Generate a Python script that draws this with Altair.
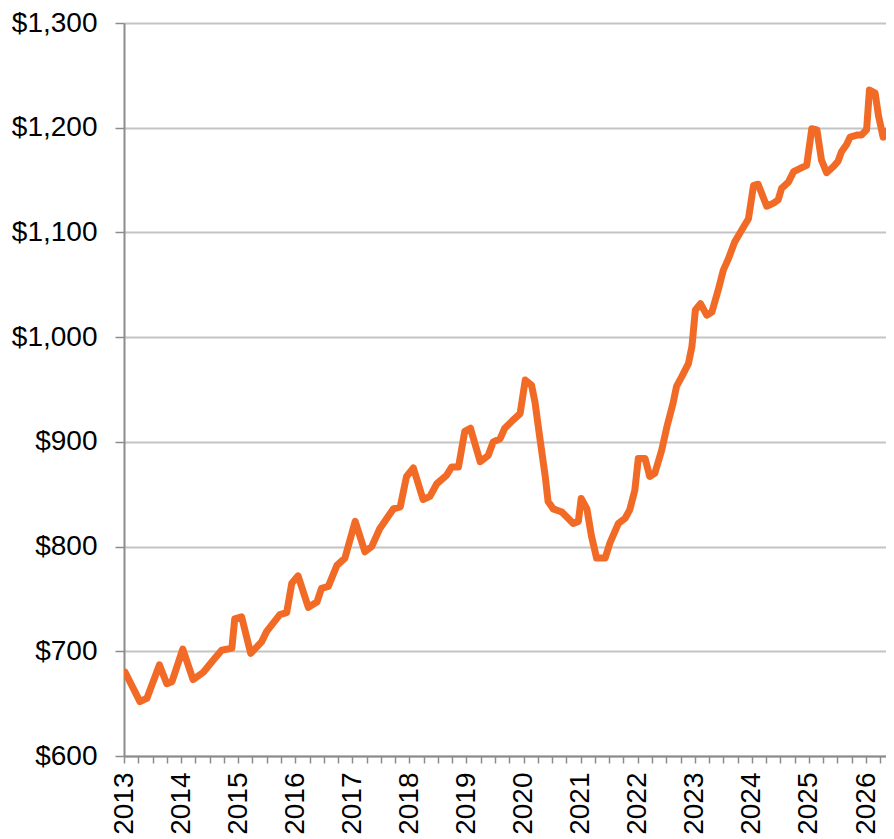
import altair as alt
import pandas as pd

# decimal years and values
years = [2013.02, 2013.28, 2013.40, 2013.62, 2013.75, 2013.84, 2014.03, 2014.21, 2014.39, 2014.54,
         2014.71, 2014.89, 2014.94, 2015.06, 2015.22, 2015.41, 2015.50, 2015.73, 2015.85, 2015.94,
         2016.05, 2016.23, 2016.38, 2016.46, 2016.58, 2016.73, 2016.87, 2017.05, 2017.22, 2017.34,
         2017.48, 2017.63, 2017.72, 2017.84, 2017.95, 2018.07, 2018.24, 2018.36, 2018.48, 2018.65,
         2018.74, 2018.86, 2018.97, 2019.07, 2019.24, 2019.38, 2019.47, 2019.59, 2019.67, 2019.82,
         2019.94, 2020.03, 2020.14, 2020.20, 2020.29, 2020.38, 2020.43, 2020.52, 2020.67, 2020.78,
         2020.87, 2020.96, 2021.01, 2021.11, 2021.19, 2021.28, 2021.43, 2021.51, 2021.66, 2021.78,
         2021.86, 2021.95, 2022.01, 2022.13, 2022.21, 2022.30, 2022.42, 2022.51, 2022.62, 2022.68,
         2022.77, 2022.89, 2022.95, 2023.01, 2023.10, 2023.21, 2023.30, 2023.41, 2023.50, 2023.59,
         2023.70, 2023.82, 2023.94, 2024.03, 2024.11, 2024.26, 2024.38, 2024.46, 2024.52, 2024.64,
         2024.73, 2024.84, 2024.96, 2025.05, 2025.14, 2025.22, 2025.31, 2025.43, 2025.51, 2025.57,
         2025.66, 2025.72, 2025.84, 2025.92, 2026.01, 2026.06, 2026.16, 2026.22, 2026.30, 2026.39,
         2026.49]
values = [680, 652, 655, 687, 669, 671, 702, 673, 680, 690,
          701, 703, 731, 733, 698, 709, 719, 735, 737, 765,
          772, 742, 747, 760, 762, 782, 789, 824, 795, 800,
          817, 829, 836, 838, 867, 875, 845, 848, 860, 868,
          876, 876, 910, 913, 881, 887, 900, 903, 913, 921,
          927, 959, 954, 938, 902, 867, 843, 836, 833, 827,
          822, 824, 846, 836, 810, 789, 789, 803, 822, 827,
          835, 854, 884, 884, 867, 870, 892, 914, 937, 953,
          962, 975, 991, 1026, 1032, 1021, 1024, 1045, 1064, 1075,
          1091, 1102, 1113, 1145, 1146, 1125, 1128, 1131, 1142, 1148,
          1158, 1161, 1164, 1199, 1198, 1169, 1157, 1163, 1168, 1177,
          1184, 1191, 1193, 1193, 1198, 1236, 1233, 1211, 1191, 1198,
          1201]

y_ticks = [600, 700, 800, 900, 1000, 1100, 1200, 1300]
x_ticks = [2013 + q * 0.25 for q in range(54)]

df = pd.DataFrame({"t": years, "v": values})

FONT = "Liberation Sans"
GRAY = "#8c8c8c"

chart = alt.Chart(df).mark_line(
    color="#F26B26", strokeWidth=7, strokeJoin="round", strokeCap="round", clip=True
).encode(
    x=alt.X("t:Q",
            scale=alt.Scale(domain=[2013, 2026.35], nice=False, zero=False),
            axis=alt.Axis(values=x_ticks,
                          labelExpr="datum.value % 1 === 0 ? format(datum.value, 'd') : ''",
                          labelAngle=-90, labelOverlap=False, labelFlush=False,
                          grid=False, tickSize=7, tickWidth=1.5, tickColor=GRAY,
                          domainColor=GRAY, domainWidth=2,
                          labelFont=FONT, labelFontSize=28, labelColor="#000000",
                          labelPadding=9, title=None)),
    y=alt.Y("v:Q",
            scale=alt.Scale(domain=[600, 1300], nice=False, zero=False),
            axis=alt.Axis(values=y_ticks, format="$,.0f",
                          grid=True, gridColor="#c4c4c4", gridWidth=2,
                          tickSize=9, tickWidth=1.5, tickColor=GRAY,
                          domainColor=GRAY, domainWidth=2,
                          labelFont=FONT, labelFontSize=28, labelColor="#000000",
                          labelPadding=18, title=None)),
).properties(
    width=762, height=733, autosize="none",
    padding={"left": 116, "top": 15, "right": 0, "bottom": 80},
).configure_view(stroke=None)

chart.save("out.html", embed_options={"renderer": "svg", "actions": False})
